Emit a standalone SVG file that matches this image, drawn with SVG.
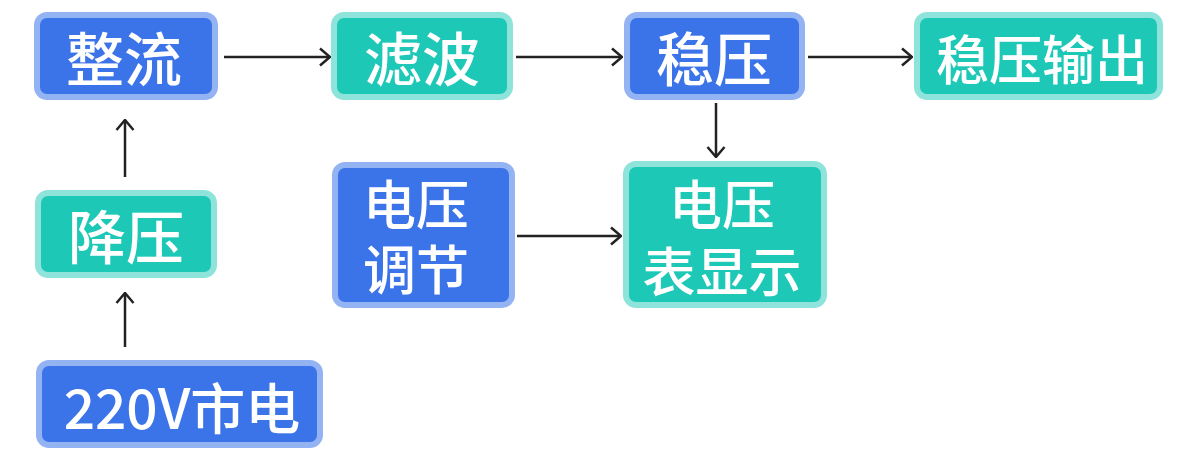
<svg xmlns="http://www.w3.org/2000/svg" width="1180" height="461" viewBox="0 0 1180 461">
<style>
.blue rect{fill:#3b73e8;stroke:#93b3f3;stroke-width:6}
.teal rect{fill:#1ec8b7;stroke:#8ee4da;stroke-width:6}
text{fill:#ffffff;font-family:"Noto Sans CJK SC","Noto Sans",sans-serif;font-weight:500;text-anchor:middle;dominant-baseline:central}
.big{font-size:58px}
.mid{font-size:53px}
.conn path{fill:none;stroke:#222222;stroke-width:2.5}
</style>
<defs>
<marker id="arr" viewBox="0 0 12 20" refX="11" refY="10" markerWidth="12" markerHeight="20" markerUnits="userSpaceOnUse" orient="auto">
<path d="M1,1.5 L11,10 L1,18.5" fill="none" stroke="#222222" stroke-width="2.5"/>
</marker>
</defs>
<g class="conn">
<path d="M224,57 L330,57" marker-end="url(#arr)"/>
<path d="M516,57 L622,57" marker-end="url(#arr)"/>
<path d="M808,57 L912,57" marker-end="url(#arr)"/>
<path d="M716,103 L716,157" marker-end="url(#arr)"/>
<path d="M517,236 L621,236" marker-end="url(#arr)"/>
<path d="M125,177 L125,120" marker-end="url(#arr)"/>
<path d="M125,347 L125,293" marker-end="url(#arr)"/>
</g>
<g id="zhengliu" class="blue"><rect x="37" y="15" width="178" height="82" rx="10"/><text class="big" x="124" y="56">整流</text></g>
<g id="lvbo" class="teal"><rect x="334" y="15" width="176" height="82" rx="10"/><text class="big" x="422" y="56">滤波</text></g>
<g id="wenya" class="blue"><rect x="627" y="15" width="175" height="82" rx="10"/><text class="big" x="714" y="56">稳压</text></g>
<g id="wenyashuchu" class="teal"><rect x="917" y="15" width="243" height="82" rx="10"/><text class="mid" x="1042" y="57">稳压输出</text></g>
<g id="jiangya" class="teal"><rect x="38" y="193" width="176" height="82" rx="10"/><text class="big" x="126" y="234">降压</text></g>
<g id="dianyatiaojie" class="blue"><rect x="335" y="165" width="177" height="140" rx="10"/><text class="mid"><tspan x="416" y="202">电压</tspan><tspan x="416" y="267">调节</tspan></text></g>
<g id="dianyabiao" class="teal"><rect x="626" y="164" width="198" height="141" rx="10"/><text class="mid"><tspan x="722" y="202">电压</tspan><tspan x="722" y="269">表显示</tspan></text></g>
<g id="shidian" class="blue"><rect x="39" y="363" width="281" height="82" rx="10"/><text x="182" y="405" style="font-size:55px">220V市电</text></g>
</svg>
